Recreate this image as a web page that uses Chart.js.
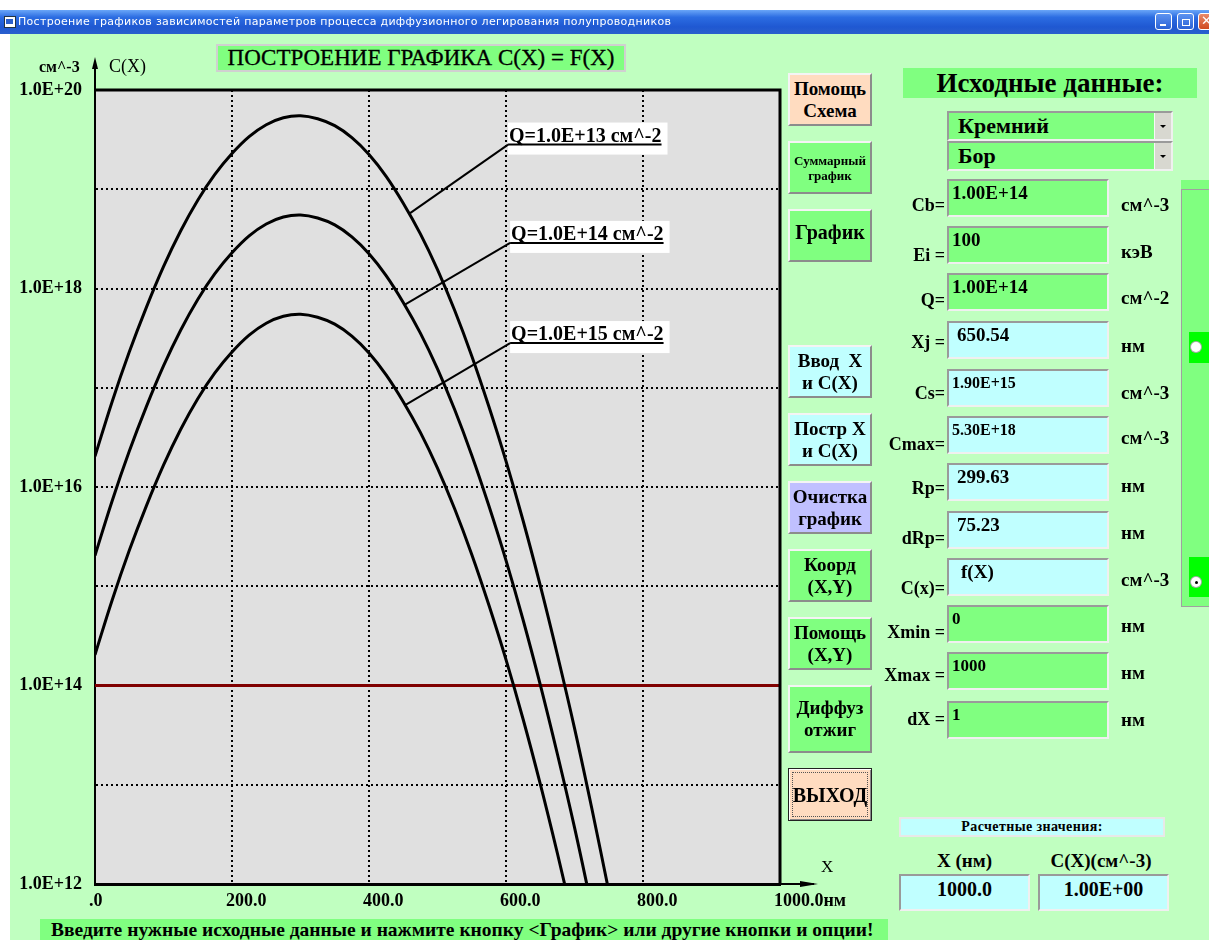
<!DOCTYPE html>
<html lang="ru">
<head>
<meta charset="utf-8">
<title>Построение графика C(X) = F(X)</title>
<script src="https://cdn.jsdelivr.net/npm/chart.js@4.4.1/dist/chart.umd.min.js"></script>
<style>
  html, body { margin: 0; padding: 0; }
  body { width: 1209px; height: 940px; position: relative; overflow: hidden; background: #fff;
         font-family: "Liberation Serif", "DejaVu Serif", serif; font-weight: bold; color: #000; }
  .a { position: absolute; }
  .serif { font-family: "Liberation Serif", "DejaVu Serif", serif; }
  #client { left: 10px; top: 34px; width: 1199px; height: 906px; background: #c0ffc0; z-index: 0; }
  #titlebar { left: 0; top: 10px; width: 1209px; height: 24px; z-index: 5;
              background: linear-gradient(#6aa6f8 0%, #2c6de2 30%, #1f58d2 70%, #2a5fcc 100%); }
  #titletext { left: 18px; top: 5px; color: #fff; font: 11px "DejaVu Sans", sans-serif; letter-spacing: 0.3px; white-space: nowrap; }
  .wbtn { top: 3px; width: 17px; height: 17px; border: 1px solid #fff; border-radius: 3px; box-sizing: border-box;
          background: linear-gradient(#5d93f0, #2b62d6); }
  #profile { left: 0; top: 0; z-index: 1; }
  .ui { position: absolute; z-index: 2; }
  .btn { position: absolute; z-index: 2; left: 788px; width: 84px; height: 53px; box-sizing: border-box;
         border: 2px solid; border-color: #f4f4f4 #8c8c8c #8c8c8c #f4f4f4; background: #80ff80;
         display: flex; align-items: center; justify-content: center; text-align: center;
         font-size: 19px; line-height: 22px; white-space: nowrap; }
  .cy { background: #c0ffff; }
  .field { position: absolute; z-index: 2; left: 947px; width: 162px; height: 38px; box-sizing: border-box;
           border: 2px solid; border-color: #9a9a9a #f0f0f0 #f0f0f0 #9a9a9a; line-height: 20px; padding-top: 2px; }
  .flabel { position: absolute; z-index: 2; left: 860px; width: 85px; text-align: right; font-size: 18px; line-height: 20px; }
  .funit { position: absolute; z-index: 2; left: 1121px; font-size: 19px; line-height: 20px; white-space: nowrap; }
  .combo { position: absolute; z-index: 2; left: 947px; width: 226px; height: 30px; box-sizing: border-box;
           border: 2px solid; border-color: #9a9a9a #f0f0f0 #f0f0f0 #9a9a9a; background: #80ff80;
           font-size: 22px; line-height: 26px; padding-left: 9px; }
  .combo .arr { position: absolute; right: 0; top: 0; width: 16px; height: 26px; background: #d8d8d0;
                border-left: 1px solid #f8f8f8; }
  .combo .arr:after { content: ""; position: absolute; left: 5px; top: 12px; border-left: 3px solid transparent;
                      border-right: 3px solid transparent; border-top: 3px solid #000; }
</style>
</head>
<body>
<div id="client" class="a"></div>
<div id="titlebar" class="a">
  <div class="a" style="left:4px;top:6px;width:10px;height:10px;background:#fff;border:1px solid #234;"></div>
  <div class="a" style="left:6px;top:9px;width:7px;height:5px;background:#2a5fcc;"></div>
  <div id="titletext" class="a">Построение графиков зависимостей параметров процесса диффузионного легирования полупроводников</div>
  <div class="a wbtn" style="left:1155px;"><div class="a" style="left:4px;top:10px;width:6px;height:2px;background:#fff"></div></div>
  <div class="a wbtn" style="left:1177px;"><div class="a" style="left:4px;top:5px;width:6px;height:5px;border:1px solid #fff"></div></div>
  <div class="a wbtn" style="left:1198px;background:linear-gradient(#e98a6a,#d04a20);color:#fff;font:bold 13px 'DejaVu Sans';line-height:14px;padding-left:2px;">✕</div>
</div>

<canvas id="profile" class="a" width="880" height="920"></canvas>

<!-- заголовок и подписи осей -->
<div class="ui serif" style="left:216px;top:44px;width:410px;height:28px;box-sizing:border-box;border:2px solid #d0d0d0;background:#80ff80;font-weight:normal;font-size:23px;line-height:24px;text-align:center;white-space:nowrap;-webkit-text-stroke:0.3px #000;">ПОСТРОЕНИЕ ГРАФИКА C(X) = F(X)</div>
<div class="ui" style="left:39px;top:58px;font-size:16px;">см^-3</div>
<div class="ui serif" style="left:109px;top:56px;font-size:18px;font-weight:normal;">C(X)</div>
<div class="ui serif" style="left:821px;top:857px;font-size:17px;font-weight:normal;">X</div>

<!-- кнопки -->
<div class="btn" style="top:73px;background:#ffdcc0;">Помощь<br>Схема</div>
<div class="btn" style="top:141px;font-size:13px;line-height:15px;">Суммарный<br>график</div>
<div class="btn" style="top:209px;font-size:20px;align-items:flex-start;padding-top:10px;">График</div>
<div class="btn cy" style="top:345px;">Ввод&nbsp;&nbsp;X<br>и C(X)</div>
<div class="btn cy" style="top:413px;">Постр X<br>и C(X)</div>
<div class="btn" style="top:481px;background:#c0c0ff;">Очистка<br>график</div>
<div class="btn" style="top:549px;">Коорд<br>(X,Y)</div>
<div class="btn" style="top:617px;">Помощь<br>(X,Y)</div>
<div class="btn" style="top:685px;height:68px;">Диффуз<br>отжиг</div>
<div class="btn" style="top:768px;background:#ffdcc0;border:1px solid #222;box-shadow:inset 1px 1px 0 #fff, inset -1px -1px 0 #888;font-size:20px;">
  <div class="a" style="left:3px;top:3px;right:3px;bottom:3px;border:1px dotted #555;"></div>ВЫХОД</div>

<!-- исходные данные -->
<div class="ui" style="left:903px;top:68px;width:294px;height:30px;background:#80ff80;font-size:27px;line-height:30px;text-align:center;">Исходные данные:</div>
<div class="combo" style="top:111px;">Кремний<div class="arr"></div></div>
<div class="combo" style="top:141px;">Бор<div class="arr"></div></div>
<div id="fields"></div>

<!-- правая панель -->
<div class="ui" style="left:1181px;top:180px;width:28px;height:9px;background:#80ff80;"></div>
<div class="ui" style="left:1181px;top:189px;width:30px;height:418px;box-sizing:border-box;border:1px solid #a0a0a0;background:#80ff80;"></div>
<div class="ui" style="left:1189px;top:332px;width:20px;height:31px;background:#00ff00;"></div>
<div class="ui" style="left:1191px;top:342px;width:10px;height:10px;border-radius:50%;background:#fff;box-shadow:0 0 0 1px #aaa;"></div>
<div class="ui" style="left:1189px;top:557px;width:20px;height:40px;background:#00ff00;"></div>
<div class="ui" style="left:1191px;top:577px;width:10px;height:10px;border-radius:50%;background:#fff;box-shadow:0 0 0 1px #aaa;"></div>
<div class="ui" style="left:1195px;top:581px;width:3px;height:3px;border-radius:50%;background:#000;"></div>

<!-- расчетные значения -->
<div class="ui" style="left:899px;top:817px;width:266px;height:20px;box-sizing:border-box;border:2px solid #e8e8e8;background:#c0ffff;font-size:14px;line-height:16px;text-align:center;letter-spacing:0.4px;">Расчетные значения:</div>
<div class="ui" style="left:899px;top:850px;width:131px;text-align:center;font-size:19px;">X (нм)</div>
<div class="ui" style="left:1030px;top:850px;width:142px;text-align:center;font-size:19px;">C(X)(см^-3)</div>
<div class="ui" style="left:899px;top:874px;width:131px;height:37px;box-sizing:border-box;border:2px solid;border-color:#9a9a9a #f0f0f0 #f0f0f0 #9a9a9a;background:#c0ffff;text-align:center;font-size:20px;line-height:27px;">1000.0</div>
<div class="ui" style="left:1038px;top:874px;width:131px;height:37px;box-sizing:border-box;border:2px solid;border-color:#9a9a9a #f0f0f0 #f0f0f0 #9a9a9a;background:#c0ffff;text-align:center;font-size:20px;line-height:27px;">1.00E+00</div>

<!-- строка состояния -->
<div class="ui" style="left:40px;top:919px;width:848px;height:21px;background:#80ff80;font-size:19.5px;line-height:22px;padding-left:11px;box-sizing:border-box;white-space:nowrap;overflow:hidden;">Введите нужные исходные данные и нажмите кнопку &lt;График&gt; или другие кнопки и опции!</div>

<script>
// Глубина, нм
const depthNm = [0, 25, 50, 75, 100, 125, 150, 175, 200, 225, 250, 275, 300, 325, 350, 375,
                 400, 425, 450, 475, 500, 525, 550, 575, 600, 625, 650, 675, 700, 725, 750];

// Концентрация C(X), см^-3, по кривым
const concQ13 = [2.04e16, 7.24e16, 2.29e17, 6.46e17, 1.66e18, 3.80e18, 7.76e18, 1.41e19, 2.29e19, 3.39e19,
                 4.47e19, 5.25e19, 5.50e19, 5.13e19, 4.37e19, 3.31e19, 2.24e19, 1.35e19, 7.24e18, 3.55e18,
                 1.55e18, 6.03e17, 2.09e17, 6.46e16, 1.82e16, 4.57e15, 1.02e15, 2.04e14, 3.72e13, 5.89e12, 8.51e11];
const concQ14 = [2.04e15, 7.24e15, 2.29e16, 6.46e16, 1.66e17, 3.80e17, 7.76e17, 1.41e18, 2.29e18, 3.39e18,
                 4.47e18, 5.25e18, 5.50e18, 5.13e18, 4.37e18, 3.31e18, 2.24e18, 1.35e18, 7.24e17, 3.55e17,
                 1.55e17, 6.03e16, 2.09e16, 6.46e15, 1.82e15, 4.57e14, 1.02e14, 2.04e13, 3.72e12, 5.89e11];
const concQ15 = [2.04e14, 7.24e14, 2.29e15, 6.46e15, 1.66e16, 3.80e16, 7.76e16, 1.41e17, 2.29e17, 3.39e17,
                 4.47e17, 5.25e17, 5.50e17, 5.13e17, 4.37e17, 3.31e17, 2.24e17, 1.35e17, 7.24e16, 3.55e16,
                 1.55e16, 6.03e15, 2.09e15, 6.46e14, 1.82e14, 4.57e13, 1.02e13, 2.04e12, 3.72e11];

// Уровень фоновой примеси Cb
const cbLevel = 1e14;
const cbRange = [0, 1000];

// Подписи кривых
const curveLabels = ['Q=1.0E+13 см^-2', 'Q=1.0E+14 см^-2', 'Q=1.0E+15 см^-2'];
// точка подписи и конец выноски (в координатах графика: нм, см^-3)
const labelAt = [[603, 2.82e19], [606, 2.88e18], [606, 2.82e17]];
const leaderTo = [[460, 5.75e18], [453, 6.92e17], [454, 6.76e16]];

// Деления осей
const xTicks = [0, 200, 400, 600, 800, 1000];
const yDecades = [1e12, 1e13, 1e14, 1e15, 1e16, 1e17, 1e18, 1e19, 1e20];

// Поля исходных данных
const fieldRows = [
    // подпись, значение, единицы, верх, фон, смещение подписи, смещение единиц, отступ, размер
    ['Cb=', '1.00E+14', 'см^-3', 179, '#80ff80', 16, 16, 3, 19],
    ['Ei =', '100', 'кэВ', 226, '#80ff80', 19, 16, 3, 19],
    ['Q=', '1.00E+14', 'см^-2', 273, '#80ff80', 17, 15, 3, 19],
    ['Xj =', '650.54', 'нм', 321, '#c0ffff', 11, 15, 8, 19],
    ['Cs=', '1.90E+15', 'см^-3', 369, '#c0ffff', 14, 14, 3, 16],
    ['Cmax=', '5.30E+18', 'см^-3', 416, '#c0ffff', 18, 12, 3, 16],
    ['Rp=', '299.63', 'нм', 463, '#c0ffff', 15, 13, 8, 19],
    ['dRp=', '75.23', 'нм', 511, '#c0ffff', 17, 12, 8, 19],
    ['C(x)=', 'f(X)', 'см^-3', 558, '#c0ffff', 20, 12, 12, 19],
    ['Xmin =', '0', 'нм', 605, '#80ff80', 17, 11, 3, 17],
    ['Xmax =', '1000', 'нм', 652, '#80ff80', 13, 11, 3, 17],
    ['dX =', '1', 'нм', 701, '#80ff80', 8, 9, 3, 17]
];

const fieldsHost = document.getElementById('fields');
fieldRows.forEach(([label, value, unit, top, bg, dyLabel, dyUnit, indent, size]) => {
    fieldsHost.insertAdjacentHTML('beforeend',
        `<div class="flabel" style="top:${top + dyLabel}px">${label}</div>` +
        `<div class="field" style="top:${top}px;background:${bg};padding-left:${indent}px;font-size:${size}px">${value}</div>` +
        `<div class="funit" style="top:${top + dyUnit}px">${unit}</div>`);
});

function toPoints(values) {
    return values.map((v, i) => ({ x: depthNm[i], y: v }));
}

function yTickText(value) {
    const exp = Math.round(Math.log10(value));
    return exp % 2 === 0 ? `1.0E+${exp}` : '';
}

function xTickText(value) {
    if (value === 0) return '.0';
    if (value === 1000) return '1000.0нм';
    return value.toFixed(1);
}

const tickFont = { family: '"Liberation Serif", serif', size: 18, weight: 'bold' };

// Фон области построения, рамка, стрелки осей и выноски
const frameAndNotes = {
    id: 'frameAndNotes',
    beforeDraw(chart) {
        const { ctx, chartArea: a } = chart;
        ctx.save();
        ctx.fillStyle = '#e0e0e0';
        ctx.fillRect(a.left, a.top, a.right - a.left, a.bottom - a.top);
        ctx.restore();
    },
    afterDraw(chart) {
        const { ctx, chartArea: a, scales: { x, y } } = chart;
        ctx.save();
        ctx.strokeStyle = '#000';
        ctx.fillStyle = '#000';
        ctx.lineWidth = 3;
        ctx.beginPath();
        ctx.moveTo(a.left, a.top);
        ctx.lineTo(a.right, a.top);
        ctx.lineTo(a.right, a.bottom);
        ctx.stroke();

        // стрелка оси Y
        ctx.lineWidth = 2;
        ctx.beginPath();
        ctx.moveTo(a.left, a.top);
        ctx.lineTo(a.left, a.top - 28);
        ctx.stroke();
        ctx.beginPath();
        ctx.moveTo(a.left, a.top - 33);
        ctx.lineTo(a.left - 3, a.top - 21);
        ctx.lineTo(a.left + 3, a.top - 21);
        ctx.closePath();
        ctx.fill();

        // стрелка оси X
        ctx.beginPath();
        ctx.moveTo(a.right, a.bottom);
        ctx.lineTo(a.right + 34, a.bottom);
        ctx.stroke();
        ctx.beginPath();
        ctx.moveTo(a.right + 38, a.bottom);
        ctx.lineTo(a.right + 20, a.bottom - 3);
        ctx.lineTo(a.right + 20, a.bottom + 3);
        ctx.closePath();
        ctx.fill();

        // выноски с подписями кривых
        ctx.font = 'bold 20px "Liberation Serif", serif';
        curveLabels.forEach((text, i) => {
            const px = x.getPixelForValue(labelAt[i][0]);
            const py = y.getPixelForValue(labelAt[i][1]);
            const ex = x.getPixelForValue(leaderTo[i][0]);
            const ey = y.getPixelForValue(leaderTo[i][1]);
            const w = ctx.measureText(text).width;
            ctx.fillStyle = '#fff';
            ctx.fillRect(px, py - 22, w + 7, 32);
            ctx.fillStyle = '#000';
            ctx.textBaseline = 'alphabetic';
            ctx.fillText(text, px + 1, py - 3);
            ctx.lineWidth = 2;
            ctx.beginPath();
            ctx.moveTo(px, py);
            ctx.lineTo(px + w + 1, py);
            ctx.stroke();
            ctx.beginPath();
            ctx.moveTo(px, py);
            ctx.lineTo(ex, ey);
            ctx.stroke();
        });
        ctx.restore();
    }
};

new Chart(document.getElementById('profile').getContext('2d'), {
    type: 'line',
    data: {
        datasets: [
            { label: curveLabels[0], data: toPoints(concQ13), borderColor: '#000' },
            { label: curveLabels[1], data: toPoints(concQ14), borderColor: '#000' },
            { label: curveLabels[2], data: toPoints(concQ15), borderColor: '#000' },
            {
                label: 'Cb',
                data: cbRange.map(v => ({ x: v, y: cbLevel })),
                borderColor: '#800000',
                tension: 0
            }
        ]
    },
    options: {
        responsive: false,
        animation: false,
        devicePixelRatio: 1,
        layout: { padding: { left: 10, top: 90, right: 100, bottom: 0 } },
        elements: {
            point: { radius: 0 },
            line: { borderWidth: 3, tension: 0.4, fill: false }
        },
        plugins: { legend: { display: false }, tooltip: { enabled: false } },
        scales: {
            x: {
                type: 'linear',
                min: 0,
                max: 1000,
                afterBuildTicks: scale => { scale.ticks = xTicks.map(v => ({ value: v })); },
                afterFit: scale => { scale.height = 36; },
                grid: {
                    drawTicks: false,
                    lineWidth: 2,
                    color: c => (c.tick && (c.tick.value === 0 || c.tick.value === 1000)) ? 'rgba(0,0,0,0)' : '#000'
                },
                border: { display: true, color: '#000', width: 3, dash: [2, 3] },
                ticks: {
                    align: 'start',
                    labelOffset: -6,
                    padding: 7,
                    autoSkip: false,
                    maxRotation: 0,
                    color: '#000',
                    font: tickFont,
                    callback: v => xTickText(v)
                }
            },
            y: {
                type: 'logarithmic',
                min: 1e12,
                max: 1e20,
                afterBuildTicks: scale => { scale.ticks = yDecades.map(v => ({ value: v })); },
                afterFit: scale => { scale.width = 85; },
                grid: {
                    drawTicks: false,
                    lineWidth: 2,
                    color: c => (c.tick && (c.tick.value === 1e12 || c.tick.value === 1e20)) ? 'rgba(0,0,0,0)' : '#000'
                },
                border: { display: true, color: '#000', width: 2, dash: [2, 3] },
                ticks: {
                    padding: 13,
                    autoSkip: false,
                    color: '#000',
                    font: tickFont,
                    callback: v => yTickText(v)
                }
            }
        }
    },
    plugins: [frameAndNotes]
});
</script>
</body>
</html>
